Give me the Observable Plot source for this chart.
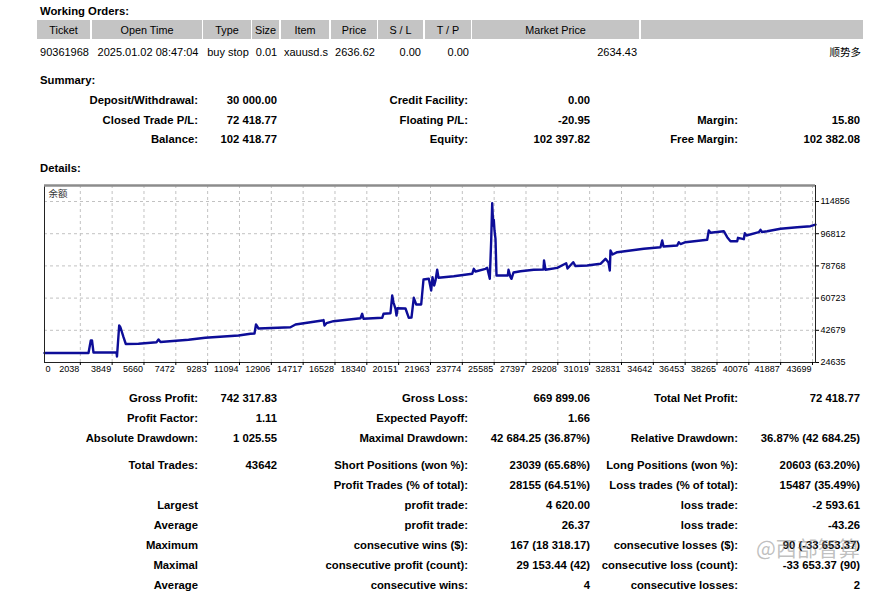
<!DOCTYPE html>
<html><head><meta charset="utf-8">
<script src="https://cdn.jsdelivr.net/npm/d3@7"></script>
<script src="https://cdn.jsdelivr.net/npm/@observablehq/plot@0.6"></script>
<style>
body{margin:0;background:#fff;width:877px;height:592px;position:relative;overflow:hidden;font-family:"Liberation Sans",Arial,sans-serif;color:#000}
.t{position:absolute;white-space:nowrap;line-height:14px;font-size:11px}
.b{font-weight:bold;font-size:11.3px}
.hd{position:absolute;background:#c4c4c4;top:20px;height:19px}
#chart{position:absolute;left:0;top:180px}
.wm{position:absolute;left:756px;top:534px;font-size:21px;line-height:26px;color:rgba(130,130,130,0.5);font-family:"Noto Sans CJK SC",sans-serif;white-space:nowrap}
</style></head><body>
<div id="chart"></div>
<script>
// ---- chart data (trade number, balance) ----
const trades = [0,2504,2634,2703,2788,4097,4125,4250,4324,4495,4626,5349,6373,6487,6600,8194,9144,11039,11721,11949,12034,12177,13997,14282,15135,15801,15875,15932,16046,16444,17980,18077,18151,19215,19289,19687,19784,19858,19972,20029,20086,20541,20729,20882,21013,21150,21434,21565,21867,22003,22077,22174,22248,22344,22419,23289,24336,24427,24524,25093,25189,25337,25417,25474,25531,25565,25605,25662,25719,26362,26402,26516,26572,26686,27084,27841,28393,28422,28507,29173,29685,29759,30083,30214,30880,31636,31921,32092,32166,32205,32319,32587,34101,35050,35147,35221,36000,36091,36188,36473,37708,37799,37895,38652,38846,39033,39415,39460,39790,39847,39944,40644,40740,40826,41122,41878,42829,43585,43870];
const balance = [30000,30000,36960,36960,30240,30240,28000,45370,44250,38810,35000,35110,36010,37520,36120,37360,38480,39770,40720,40890,45930,43690,44420,45930,47220,48170,48450,45370,46660,47780,49460,51930,49130,49680,51930,52260,62180,58260,54730,50970,55060,54900,49680,49850,60890,57140,57140,71150,71540,64980,72440,67780,70590,76580,72100,73000,74340,77140,75630,77140,77700,71540,93000,113900,101410,104600,98610,93960,73390,73390,76580,72440,71540,75070,75800,76580,76750,81800,76580,77700,80280,77310,80840,78710,78990,79940,82750,80670,76190,87400,85160,86450,88350,89250,93000,89640,90200,92050,91040,92050,93390,98610,97320,98210,94850,92610,92610,94520,93730,97090,95800,97650,98990,97760,98210,99560,100460,101010,101900];
const xTicks = [0,2038,3849,5660,7472,9283,11094,12906,14717,16528,18340,20151,21963,23774,25585,27397,29208,31019,32831,34642,36453,38265,40076,41887,43699];
const yTicks = [24635,42679,60723,78768,96812,114856];
const seriesName = "余额";
const xDomain = [0, 43870];
const yDomain = [24635, 123826];

// ---- page texts ----
const orderHeads = ["Ticket","Open Time","Type","Size","Item","Price","S / L","T / P","Market Price",""];
const orderRow = ["90361968","2025.01.02 08:47:04","buy stop","0.01","xauusd.s","2636.62","0.00","0.00","2634.43","顺势多"];
const summaryRows = [
  ["Deposit/Withdrawal:","30 000.00","Credit Facility:","0.00","",""],
  ["Closed Trade P/L:","72 418.77","Floating P/L:","-20.95","Margin:","15.80"],
  ["Balance:","102 418.77","Equity:","102 397.82","Free Margin:","102 382.08"]
];
const detailRows = [
  ["Gross Profit:","742 317.83","Gross Loss:","669 899.06","Total Net Profit:","72 418.77"],
  ["Profit Factor:","1.11","Expected Payoff:","1.66","",""],
  ["Absolute Drawdown:","1 025.55","Maximal Drawdown:","42 684.25 (36.87%)","Relative Drawdown:","36.87% (42 684.25)"],
  ["Total Trades:","43642","Short Positions (won %):","23039 (65.68%)","Long Positions (won %):","20603 (63.20%)"],
  ["","","Profit Trades (% of total):","28155 (64.51%)","Loss trades (% of total):","15487 (35.49%)"],
  ["Largest","","profit trade:","4 620.00","loss trade:","-2 593.61"],
  ["Average","","profit trade:","26.37","loss trade:","-43.26"],
  ["Maximum","","consecutive wins ($):","167 (18 318.17)","consecutive losses ($):","90 (-33 653.37)"],
  ["Maximal","","consecutive profit (count):","29 153.44 (42)","consecutive loss (count):","-33 653.37 (90)"],
  ["Average","","consecutive wins:","4","consecutive losses:","2"]
];

function put(txt, x, y, align, cls, extra){
  const d = document.createElement("div");
  d.className = "t " + (cls||"");
  d.textContent = txt;
  const tx = align === "r" ? "-100%" : align === "c" ? "-50%" : "0";
  d.style.left = x + "px"; d.style.top = y + "px";
  d.style.transform = `translate(${tx},-50%)`;
  if (extra) Object.assign(d.style, extra);
  document.body.appendChild(d);
}

// Working orders
put("Working Orders:", 40, 10.5, "l", "b");
const cols = [[37,90],[92,202],[203,251],[252,279],[281,329],[331,377],[378,423],[425,471],[472,639],[641,863]];
cols.forEach(([a,b],i)=>{
  const h = document.createElement("div");
  h.className = "hd"; h.style.left = a+"px"; h.style.width = (b-a)+"px";
  document.body.appendChild(h);
  if (orderHeads[i]) put(orderHeads[i], (a+b)/2, 30, "c", "", {fontSize:"10.8px"});
});
const rowAlign = ["c","c","c","c","c","c","r","r","r","r"];
orderRow.forEach((v,i)=>{
  const [a,b] = cols[i];
  const al = rowAlign[i];
  const x = al === "c" ? (a+b)/2 + 1 : b - 2;
  put(v, x, 51.5, al, "", i===9 ? {fontFamily:"'Noto Sans CJK SC',sans-serif", fontSize:"10.5px"} : null);
});

// Summary
put("Summary:", 40, 79.5, "l", "b");
const colR = [198, 277, 468, 590, 738, 860];
function rows(list, ys){
  list.forEach((r,k)=>{
    r.forEach((v,i)=>{ if (v) put(v, colR[i], ys[k], "r", "b"); });
  });
}
rows(summaryRows, [99.5, 119.5, 139]);
put("Details:", 40, 167.5, "l", "b");
rows(detailRows, [397.5, 417.5, 437.5, 465, 485, 505, 525, 545, 565, 585]);

// Chart
const data = trades.map((t,i)=>({t, b: balance[i]}));
const chart = Plot.plot({
  width: 877, height: 200,
  marginLeft: 44, marginRight: 62, marginTop: 5, marginBottom: 18,
  x: {domain: xDomain, axis: null},
  y: {domain: yDomain, axis: null},
  style: {fontFamily: "'Liberation Sans', Arial, sans-serif", fontSize: "9px", color: "#000", background: "transparent"},
  marks: [
    Plot.ruleX(xTicks.slice(1), {stroke: "#c2c2c2", strokeDasharray: "3,3"}),
    Plot.ruleY(yTicks.slice(1), {stroke: "#c2c2c2", strokeDasharray: "3,3"}),
    Plot.line(data, {x: "t", y: "b", stroke: "#0d0d98", strokeWidth: 2.4}),
    Plot.frame({stroke: "#222"}),
    Plot.ruleY([yDomain[1]], {stroke: "#8c8c8c", strokeWidth: 2.5}),
    Plot.axisY(yTicks, {anchor: "right", tickSize: 3, tickPadding: 2, tickFormat: d => String(d), label: null, fontSize: 9}),
    Plot.axisX(xTicks.slice(1), {tickSize: 3, tickFormat: () => "", label: null}),
    Plot.text(xTicks.slice(1), {x: d => d, frameAnchor: "bottom", dy: 9.5, dx: -1, textAnchor: "end", text: d => String(d), fontSize: 9}),
    Plot.text(xTicks.slice(0,1), {x: d => d, frameAnchor: "bottom", dy: 9.5, dx: 1, textAnchor: "start", text: d => String(d), fontSize: 9}),
    Plot.text([seriesName], {frameAnchor: "top-left", dx: 4, dy: 5, lineAnchor: "top", fontFamily: "'Noto Sans CJK SC', sans-serif", fontSize: 9.5, fill: "#333"})
  ]
});
document.getElementById("chart").appendChild(chart);

// watermark
const wm = document.createElement("div");
wm.className = "wm"; wm.textContent = "@西部智算";
document.body.appendChild(wm);
</script>
</body></html>
